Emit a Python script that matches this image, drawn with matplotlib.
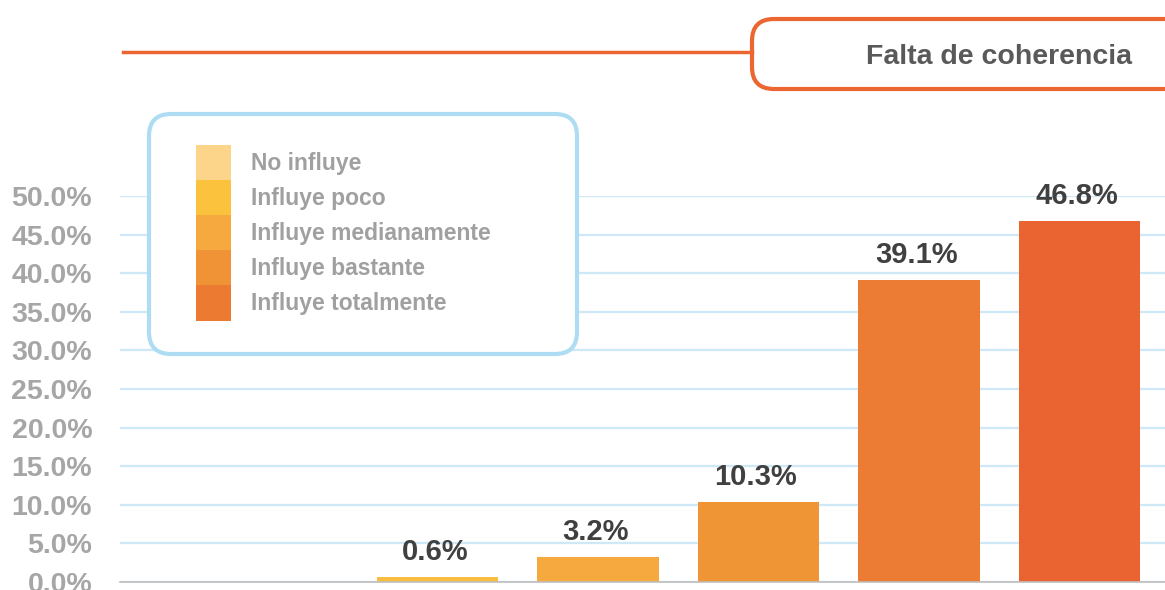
import matplotlib
matplotlib.use("Agg")
import matplotlib.pyplot as plt
from matplotlib.patches import FancyBboxPatch, Patch
from matplotlib.lines import Line2D
from matplotlib.ticker import FuncFormatter

plt.rcParams['font.family'] = ['Liberation Sans', 'DejaVu Sans']
plt.rcParams['font.weight'] = 'bold'

# datos
categorias = ['', 'Influye poco', 'Influye medianamente', 'Influye bastante',
              'Influye totalmente', 'Influye totalmente ']
valores = [0.0, 0.6, 3.2, 10.3, 39.1, 46.8]
colores_barras = ['#FDD58A', '#F9BD42', '#F6A93F', '#F09536', '#EC7C33', '#E96430']
leyenda_textos = ['No influye', 'Influye poco', 'Influye medianamente',
                  'Influye bastante', 'Influye totalmente']
leyenda_colores = ['#FDD58A', '#FBC23E', '#F6A93F', '#F09236', '#EC7A31']
titulo = 'Falta de coherencia'
yticks = [0, 5, 10, 15, 20, 25, 30, 35, 40, 45, 50]

W, H = 1165, 590
fig = plt.figure(figsize=(W / 100, H / 100), dpi=100)
ax = fig.add_axes([120 / W, (H - 582) / H, 1045 / W, (582 - 196) / H])

x = list(range(len(valores)))
barras = ax.bar(x, valores, width=0.76, color=colores_barras, zorder=3)
for xi, v in zip(x, valores):
    if v > 0:
        ax.annotate(f"{v:.1f}%", (xi, v), xytext=(-2, 8), textcoords='offset points',
                    ha='center', va='bottom', fontsize=21, fontweight='bold',
                    color='#404040', annotation_clip=False)

ax.set_xlim((120 - 277) / 160.5, (1165 - 277) / 160.5)
ax.set_ylim(0, 50)
ax.set_yticks(yticks)
ax.yaxis.set_major_formatter(FuncFormatter(lambda v, p: f"{v:.1f}%"))
ax.tick_params(axis='y', length=0, pad=20, labelsize=20.5, labelcolor='#A6A6A6')
ax.set_xticks([])
for lab in ax.get_yticklabels():
    lab.set_fontweight('bold')
ax.grid(axis='y', color='#CFE8F7', linewidth=1.6, zorder=0)
for s in ['top', 'right', 'left']:
    ax.spines[s].set_visible(False)
ax.spines['bottom'].set_color('#BFBFBF')
ax.spines['bottom'].set_linewidth(1.2)
ax.spines['bottom'].set_zorder(4)

# encabezado
fig.add_artist(Line2D([123 / W, 752 / W], [(H - 52) / H] * 2, color='#EB6630',
                      linewidth=2.5, transform=fig.transFigure))
caja = FancyBboxPatch((752, H - 89), 460, 70, boxstyle='round,pad=0,rounding_size=22',
                      transform=None, facecolor='white', edgecolor='#EB6630',
                      linewidth=3, clip_on=False)
fig.add_artist(caja)
fig.text(999 / W, (H - 57) / H, titulo, ha='center', va='center', fontsize=20.5,
         fontweight='bold', color='#595959')

# leyenda
marco = FancyBboxPatch((149, H - 354), 428, 240, boxstyle='round,pad=0,rounding_size=22',
                       transform=None, facecolor='white', edgecolor='#AEDDF3',
                       linewidth=3, clip_on=False, zorder=5)
fig.add_artist(marco)
handles = [Patch(facecolor=c, edgecolor='none') for c in leyenda_colores]
leg = fig.legend(handles, leyenda_textos, loc='upper left',
                 bbox_to_anchor=(196 / W, (H - 145) / H), frameon=False,
                 borderpad=0, borderaxespad=0, labelspacing=0, handlelength=1.53,
                 handleheight=1.98, handletextpad=0.87,
                 prop={'weight': 'bold', 'size': 16.5})
leg.set_zorder(6)
for t in leg.get_texts():
    t.set_color('#A0A0A0')

fig.savefig('out.png', dpi=100)
